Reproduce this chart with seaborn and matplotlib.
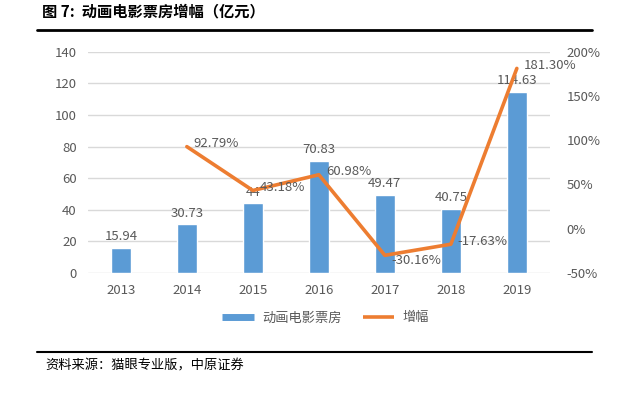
import matplotlib
matplotlib.use("Agg")
import matplotlib.pyplot as plt
import seaborn as sns
import pandas as pd
import numpy as np
from matplotlib.lines import Line2D

years = ["2013", "2014", "2015", "2016", "2017", "2018", "2019"]
box_office = [15.94, 30.73, 44.0, 70.83, 49.47, 40.75, 114.63]
box_labels = ["15.94", "30.73", "44", "70.83", "49.47", "40.75", "114.63"]
growth = [np.nan, 92.79, 43.18, 60.98, -30.16, -17.63, 181.30]
growth_labels = ["", "92.79%", "43.18%", "60.98%", "-30.16%", "-17.63%", "181.30%"]
left_ticks = [0, 20, 40, 60, 80, 100, 120, 140]
right_ticks = [-50, 0, 50, 100, 150, 200]

sns.set_theme(style="white")
plt.rcParams['font.family'] = ['Noto Sans CJK SC', 'DejaVu Sans']

BLUE = "#5B9BD5"
ORANGE = "#ED7D31"
GRAY = "#595959"

fig = plt.figure(figsize=(6.32, 3.96), dpi=100)
ax = fig.add_axes([0.139, 0.311, 0.731, 0.558])

df = pd.DataFrame({"year": years, "box": box_office, "growth": growth})
sns.barplot(data=df, x="year", y="box", color=BLUE, width=0.31, ax=ax,
            saturation=1)
ax.set_ylim(0, 140)
ax.set_xlim(-0.5, 6.5)
ax.set_yticks(left_ticks)
ax.yaxis.grid(True, color="#D9D9D9", linewidth=1)
ax.set_axisbelow(True)
for s in ax.spines.values():
    s.set_visible(False)
ax.set_xlabel("")
ax.set_ylabel("")
ax.tick_params(axis="both", length=0, labelsize=9.5, colors=GRAY, pad=8)

for i, (v, lab) in enumerate(zip(box_office, box_labels)):
    ax.text(i, v + 3, lab, ha="center", va="bottom", fontsize=9.5, color=GRAY)

ax2 = ax.twinx()
sns.lineplot(x=np.arange(len(years)), y=growth, color=ORANGE, linewidth=2.6,
             ax=ax2, legend=False)
ax2.set_ylim(-50, 200)
ax2.set_yticks(right_ticks)
ax2.set_yticklabels([f"{t}%" for t in right_ticks])
for s in ax2.spines.values():
    s.set_visible(False)
ax2.tick_params(axis="y", length=0, labelsize=9.5, colors=GRAY, pad=12)
ax2.set_ylabel("")

offsets = {1: (5, 2), 2: (5, 2), 3: (5, 2), 4: (5, -4), 5: (5, 2), 6: (5, 2)}
for i, (g, lab) in enumerate(zip(growth, growth_labels)):
    if lab:
        dx, dy = offsets[i]
        ax2.annotate(lab, (i, g), xytext=(dx, dy), textcoords="offset points",
                     ha="left", va="center", fontsize=9.5, color=GRAY)

handles = [Line2D([0], [0], color=BLUE, linewidth=5, solid_capstyle="butt"),
           Line2D([0], [0], color=ORANGE, linewidth=2.6, solid_capstyle="butt")]
fig.legend(handles, ["动画电影票房", "增幅"], loc="center", bbox_to_anchor=(0.515, 0.197),
           ncol=2, frameon=False, fontsize=9.5, labelcolor=GRAY,
           handlelength=2.4, handletextpad=0.6, columnspacing=1.6)

fig.text(0.066, 0.972, "图 7:  动画电影票房增幅（亿元）", fontsize=11,
         fontweight="bold", ha="left", va="center", color="black")
fig.add_artist(Line2D([0.058, 0.937], [0.924, 0.924], color="black", linewidth=2))
fig.add_artist(Line2D([0.058, 0.937], [0.111, 0.111], color="black", linewidth=1.5))
fig.text(0.072, 0.075, "资料来源：猫眼专业版，中原证券", fontsize=9.5,
         ha="left", va="center", color="black")

fig.savefig("out.png", dpi=100)
